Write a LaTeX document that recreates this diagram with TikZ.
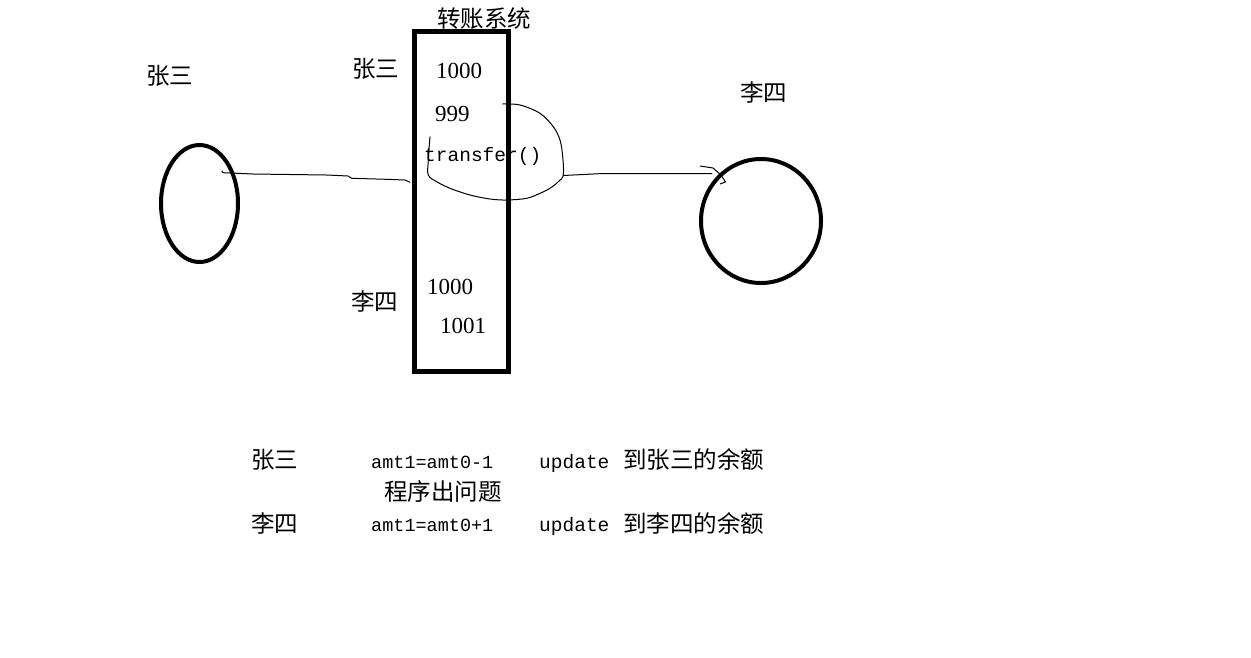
\documentclass[tikz,border=0pt]{standalone}
\usepackage{fontspec}
\setmainfont{Liberation Serif}
\newfontfamily\cjk{Noto Sans CJK SC}
\newfontfamily\monof{Liberation Mono}
\usetikzlibrary{shapes.geometric}
\begin{document}
\begin{tikzpicture}[x=1pt,y=-1pt,
  cjklbl/.style={font=\cjk\fontsize{23.5}{27}\selectfont, inner sep=0pt, anchor=base west},
  numlbl/.style={font=\fontsize{23}{27}\selectfont, inner sep=0pt, anchor=base west},
  monolbl/.style={font=\monof\fontsize{19.5}{23}\selectfont, inner sep=0pt, anchor=base west},
  eqlbl/.style={font=\monof\fontsize{18.5}{22}\selectfont, inner sep=0pt, anchor=base west},
  thickline/.style={draw, line width=4pt},
  hand/.style={line width=1pt, line join=round}]
\useasboundingbox (0,0) rectangle (1251,657);
% main shapes
\node[draw, line width=5pt, minimum width=94pt, minimum height=340.5pt, inner sep=0pt] (sys) at (461.5,201.25) {};
\node[thickline, ellipse, minimum width=77pt, minimum height=117pt, inner sep=0pt] (zs) at (199.5,203.5) {};
\node[thickline, ellipse, minimum width=120pt, minimum height=124pt, inner sep=0pt] (ls) at (761,221) {};
% labels
\node[cjklbl] (title) at (437,27) {转账系统};
\node[cjklbl] (zsname) at (146,84) {张三};
\node[cjklbl] (lsname) at (740,101) {李四};
\node[cjklbl] (zsin) at (352,77) {张三};
\node[cjklbl] (lsin) at (351,310) {李四};
\node[numlbl] (n1) at (436,78) {1000};
\node[numlbl] (n2) at (435,121) {999};
\node[monolbl] (tf) at (424,161) {transfer()};
\node[numlbl] (n3) at (427,294) {1000};
\node[numlbl] (n4) at (440,333) {1001};
% hand drawn connectors
\coordinate (c1) at (221.7,170.7);
\coordinate (c2) at (502.3,104);
\coordinate (c3) at (563.3,175.5);
\draw[hand] (c1) -- (223,172.7) -- (253,174) -- (326.7,175) -- (348,176) -- (351.7,178.3) -- (386.7,179.3) -- (405,180) -- (410,182.3);
\draw[hand] plot[smooth, tension=0.55] coordinates {(c2) (520,105) (540,113.3) (553.3,126.7) (560,140) (562.7,156.7) (563.3,175) (558.3,181.7) (550,188.3) (540,193.3) (526.7,198.3) (506.7,200) (490,199) (470,195) (450,188.3) (436.7,181.7) (428.3,175) (428.3,160) (430,136.7)};
\draw[hand] (c3) -- (603,173.5) -- (712,173.5);
\draw[hand] (700,166) -- (713,168) -- (721,175) -- (725.5,182) -- (720,184);
% bottom notes
\node[cjklbl] (b1) at (251,468) {张三};
\node[eqlbl] (b2) at (371,468) {amt1=amt0-1};
\node[monolbl] (b3) at (539,468) {update};
\node[cjklbl] (b4) at (623,468) {到张三的余额};
\node[cjklbl] (b5) at (384,500) {程序出问题};
\node[cjklbl] (b6) at (251,532) {李四};
\node[eqlbl] (b7) at (371,531) {amt1=amt0+1};
\node[monolbl] (b8) at (539,531) {update};
\node[cjklbl] (b9) at (623,532) {到李四的余额};
\end{tikzpicture}
\end{document}
